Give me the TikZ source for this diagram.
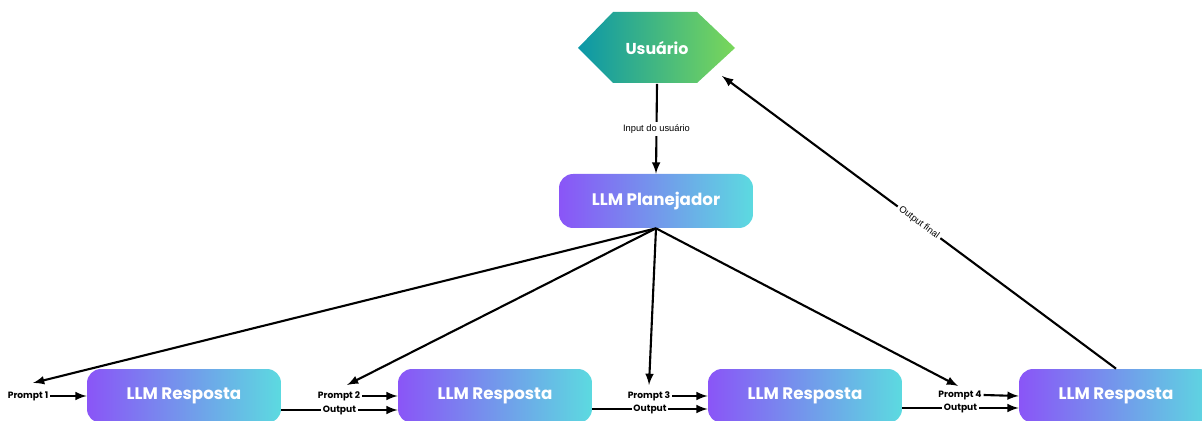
\documentclass[tikz,border=0pt]{standalone}
\usepackage{fontspec}
\setmainfont{Poppins}
\newfontfamily\lblfont{Liberation Sans}
\usetikzlibrary{arrows}
\usepackage{xcolor}

\definecolor{llmleft}{HTML}{8A55F7}
\definecolor{llmright}{HTML}{5CDAE0}
\definecolor{userleft}{HTML}{0B97A8}
\definecolor{userright}{HTML}{7AD75A}

\tikzset{
    llmbox/.style={rounded corners=0.28cm, left color=llmleft, right color=llmright,
        text=white, font=\bfseries\fontsize{9.5}{11}\selectfont,
        minimum width=3.88cm, minimum height=1.08cm, inner sep=0pt},
    promptlbl/.style={font=\bfseries\fontsize{5.2}{6}\selectfont, inner sep=1pt},
    flowline/.style={line width=1.2pt, -latex},
    edgelbl/.style={font=\lblfont\fontsize{5.3}{6}\selectfont, fill=white, inner sep=1.5pt},
}

\begin{document}
\begin{tikzpicture}[x=0.02cm,y=-0.02cm]
        \useasboundingbox (0,0) rectangle (1202,421);
        \clip (0,0) rectangle (1202,421);

        % usuario
        \shade[left color=userleft, right color=userright] (578,48) -- (613,12) -- (697,12) -- (735,48) -- (697,83) -- (613,83) -- cycle;
        \node[text=white, font=\bfseries\fontsize{9}{11}\selectfont, minimum width=3.12cm, minimum height=1.42cm, inner sep=0pt] (user) at (657,48) {Usuário};

        \node[llmbox] (plan) at (656,201) {LLM Planejador};
        \node[llmbox] (r1) at (184,396) {LLM Resposta};
        \node[llmbox] (r2) at (495,396) {LLM Resposta};
        \node[llmbox] (r3) at (805,396) {LLM Resposta};
        \node[llmbox] (r4) at (1116,396) {LLM Resposta};

        \node[promptlbl] (p1) at (28,396) {Prompt 1};
        \node[promptlbl] (p2) at (339,396) {Prompt 2};
        \node[promptlbl] (p3) at (649,396) {Prompt 3};
        \node[promptlbl] (p4) at (960,395) {Prompt 4};

        \coordinate (t1) at (33,383);
        \coordinate (t2) at (347,385);
        \coordinate (t3) at (649,385);
        \coordinate (t4) at (958,386);
        \coordinate (uin) at (722,76);

        \draw[flowline] (user.south) -- node[edgelbl] (inp) {Input do usuário} (plan.north);

        \draw[flowline] (plan.south) -- (t1);
        \draw[flowline] (plan.south) -- (t2);
        \draw[flowline] (plan.south) -- (t3);
        \draw[flowline] (plan.south) -- (t4);

        \draw[flowline] (p1.east) -- (r1.west);
        \draw[flowline] (p2.east) -- (r2.west);
        \draw[flowline] (p3.east) -- (r3.west);
        \draw[flowline] (p4.east) -- (r4.west);

        \draw[flowline] ([yshift=-0.28cm]r1.east) -- node[promptlbl, fill=white] (o2) {Output} ([yshift=-0.28cm]r2.west);
        \draw[flowline] ([yshift=-0.26cm]r2.east) -- node[promptlbl, fill=white] (o3) {Output} ([yshift=-0.26cm]r3.west);
        \draw[flowline] ([yshift=-0.24cm]r3.east) -- node[promptlbl, fill=white] (o4) {Output} ([yshift=-0.24cm]r4.west);

        \draw[flowline] (r4.north) -- node[edgelbl, sloped] (fin) {Output final} (uin);
    \end{tikzpicture}
\end{document}
